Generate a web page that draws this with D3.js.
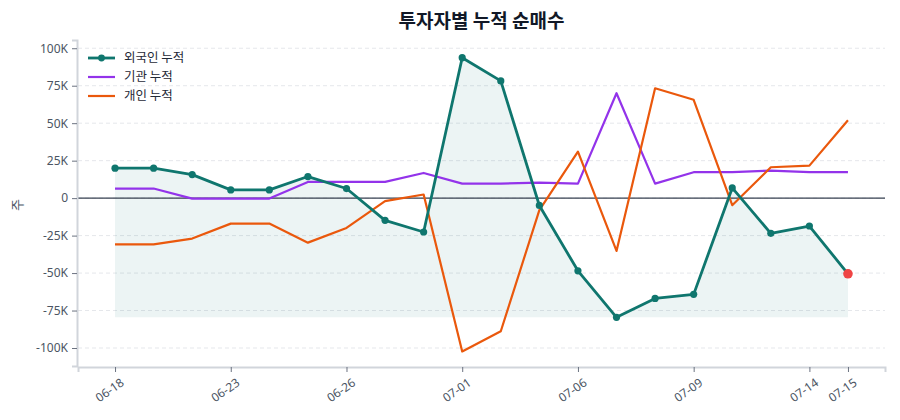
<!DOCTYPE html>
<html>
<head>
<meta charset="utf-8">
<script src="https://cdn.jsdelivr.net/npm/d3@7"></script>
<style>
  body { margin: 0; background: #fff; font-family: "Noto Sans CJK KR", "Noto Sans", sans-serif; }
  .grid line { stroke: #e5e7eb; stroke-dasharray: 4,3; }
  .axis text { fill: #4b5563; font-size: 12px; font-family: "Noto Sans", "Noto Sans CJK KR", sans-serif; }
  .axis line { stroke: #6b7280; }
</style>
</head>
<body>
<div class="container"></div>
<script>
const WIDTH = 900;
const HEIGHT = 420;
const MARGIN = {top: 40, right: 15, bottom: 54, left: 78};

// data
var dates = ['06-18','06-19','06-20','06-23','06-24','06-25','06-26','06-27','06-30','07-01',
             '07-02','07-03','07-06','07-07','07-08','07-09','07-10','07-11','07-14','07-15'];
var tickDates = ['06-18','06-23','06-26','07-01','07-06','07-09','07-14','07-15'];
var foreign = [20000,20000,15700,5500,5500,14400,6400,-14800,-22600,93700,
               78200,-4900,-48500,-79500,-66900,-64200,6800,-23500,-18600,-50500];
var inst = [6400,6400,-300,-300,-300,10800,10800,10800,16800,9700,
            9700,10400,9700,70000,9700,17300,17300,18400,17300,17300];
var indiv = [-30800,-30800,-27000,-17000,-17000,-29700,-19900,-2000,2400,-102300,
             -88800,-8000,31000,-35200,73300,65600,-4700,20600,21700,52000];
var yTicks = [-100000,-75000,-50000,-25000,0,25000,50000,75000,100000];

var seriesNames = ['외국인 누적','기관 누적','개인 누적'];
var colors = ['#0f766e','#9333ea','#ea580c'];

var translate = function(x, y){
	return "translate("+x+","+y+")";
};

var innerW = WIDTH - MARGIN.left - MARGIN.right;
var innerH = HEIGHT - MARGIN.top - MARGIN.bottom;

var svg = d3.select('.container').append('svg')
	.attr('width', WIDTH)
	.attr('height', HEIGHT);

var x = d3.scalePoint()
	.domain(dates)
	.range([0, innerW])
	.padding(0.96);

var y = d3.scaleLinear()
	.domain([-112000, 105500])
	.range([innerH, 0]);

var g = svg.append('g').attr('transform', translate(MARGIN.left, MARGIN.top));

// grid
g.append('g')
	.attr('class', 'grid')
	.selectAll('line')
	.data(yTicks)
	.enter().append('line')
	.attr('x1', 0).attr('x2', innerW)
	.attr('y1', function(d){ return y(d); })
	.attr('y2', function(d){ return y(d); });

// area under foreign series
var minF = d3.min(foreign);
var area = d3.area()
	.x(function(d, i){ return x(dates[i]); })
	.y0(y(minF))
	.y1(function(d){ return y(d); });

g.append('path')
	.datum(foreign)
	.attr('d', area)
	.attr('fill', '#0f766e')
	.attr('fill-opacity', 0.08);

// zero line
g.append('line')
	.attr('x1', 0).attr('x2', innerW)
	.attr('y1', y(0)).attr('y2', y(0))
	.attr('stroke', '#374151')
	.attr('stroke-width', 1.2);

var line = d3.line()
	.x(function(d, i){ return x(dates[i]); })
	.y(function(d){ return y(d); });

[inst, indiv].forEach(function(s, k){
	g.append('path')
		.datum(s)
		.attr('d', line)
		.attr('fill', 'none')
		.attr('stroke', colors[k + 1])
		.attr('stroke-width', 2.2)
		.attr('stroke-linejoin', 'round');
});

g.append('path')
	.datum(foreign)
	.attr('d', line)
	.attr('fill', 'none')
	.attr('stroke', colors[0])
	.attr('stroke-width', 2.8)
	.attr('stroke-linejoin', 'round');

g.selectAll('.dot')
	.data(foreign.slice(0, foreign.length - 1))
	.enter().append('circle')
	.attr('cx', function(d, i){ return x(dates[i]); })
	.attr('cy', function(d){ return y(d); })
	.attr('r', 3.6)
	.attr('fill', colors[0]);

var last = foreign.length - 1;
g.append('circle')
	.attr('cx', x(dates[last]))
	.attr('cy', y(foreign[last]))
	.attr('r', 4.8)
	.attr('fill', '#ef4444');

// axes
var xAxis = d3.axisBottom(x).tickValues(tickDates).tickSize(5).tickPadding(4);
var yAxis = d3.axisLeft(y).tickValues(yTicks).tickSize(5).tickPadding(4)
	.tickFormat(function(d){ return d === 0 ? '0' : (d / 1000) + 'K'; });

var xg = g.append('g')
	.attr('class', 'axis')
	.attr('transform', translate(0, innerH + 1))
	.call(xAxis);
xg.select('.domain').attr('stroke', '#d1d5db').attr('stroke-width', 2);
xg.selectAll('text')
	.attr('text-anchor', 'end')
	.attr('dx', '-0.2em')
	.attr('dy', '0.9em')
	.attr('transform', 'rotate(-35)');

var yg = g.append('g')
	.attr('class', 'axis')
	.attr('transform', translate(-1, 0))
	.call(yAxis);
yg.select('.domain').attr('stroke', '#d1d5db').attr('stroke-width', 2);

svg.append('text')
	.attr('transform', translate(22, 205) + ' rotate(-90)')
	.attr('text-anchor', 'middle')
	.attr('fill', '#4b5563')
	.attr('font-size', 13)
	.text('주');

// title
svg.append('text')
	.attr('x', MARGIN.left + innerW / 2)
	.attr('y', 28)
	.attr('text-anchor', 'middle')
	.attr('fill', '#111827')
	.attr('font-size', 19)
	.attr('font-weight', 'bold')
	.text('투자자별 누적 순매수');

// legend
var lg = svg.append('g').attr('transform', translate(88, 58));
seriesNames.forEach(function(name, i){
	var row = lg.append('g').attr('transform', translate(0, i * 19));
	row.append('line')
		.attr('x1', 0).attr('x2', 27)
		.attr('stroke', colors[i])
		.attr('stroke-width', i === 0 ? 2.8 : 2.2);
	if (i === 0) {
		row.append('circle').attr('cx', 13.5).attr('r', 3.4).attr('fill', colors[0]);
	}
	row.append('text')
		.attr('x', 36)
		.attr('dy', '0.35em')
		.attr('font-size', 12.5)
		.attr('fill', '#1f2937')
		.text(name);
});
</script>
</body>
</html>
